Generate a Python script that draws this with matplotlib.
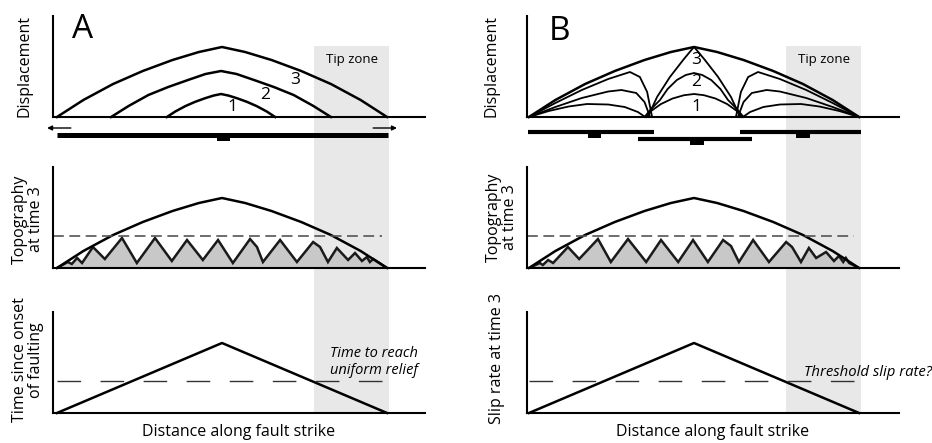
import matplotlib.pyplot as plt
import matplotlib.transforms as mtransforms
from matplotlib.patches import Rectangle

plt.rcParams['font.family'] = ['Open Sans', 'DejaVu Sans']

# distance along strike: 0 = left tip, 100 = right tip; heights in arbitrary units

# A: single fault lengthening by tip propagation (times 1-3)
a_x1 = [33.3, 35.9, 38.9, 41.8, 44.8, 47.4, 49.7, 52.0, 54.6, 57.6, 60.5, 63.5, 66.1]
a_d1 = [0, 5.6, 10.9, 15.1, 18.7, 21.4, 23, 21.4, 18.7, 15.1, 10.9, 5.6, 0]
a_x2 = [16.4, 21.7, 27.7, 33.7, 39.7, 45.0, 49.7, 54.4, 59.7, 65.7, 71.7, 77.7, 83.0]
a_d2 = [0, 11, 22, 30, 37, 43, 46, 43, 37, 30, 22, 11, 0]
a_x3 = [0, 8, 17, 26, 35, 43, 50, 57, 65, 74, 83, 92, 100]
a_d3 = [0, 17, 33, 46, 57, 65, 70, 65, 57, 46, 33, 17, 0]

# B: three segments that link up; envelope = total displacement at time 3
env_x = [0, 8, 17, 26, 35, 43, 50, 57, 65, 74, 83, 92, 100]
env_d = [0, 17, 33, 46, 57, 65, 70, 65, 57, 46, 33, 17, 0]

bl1_x = [0, 6, 12, 17.6, 24, 29, 33, 35.2]
bl1_d = [0, 6, 10.5, 13, 12.5, 10, 5, 0]
bl2_x = [0, 8, 16, 24, 28, 32.5, 35, 36.7]
bl2_d = [0, 10, 19, 25.5, 27, 24, 15, 0]
bl3_x = [0, 8, 16, 24, 30.6, 33.6, 35.8, 37.3]
bl3_d = [0, 14, 27, 38, 45, 40, 25, 0]

bm1_x = [35.5, 37, 40, 43.5, 47, 50, 53, 56.5, 60, 63, 64.5]
bm1_d = [0, 6, 13, 18.5, 21.8, 23, 21.8, 18.5, 13, 6, 0]
bm2_x = [35, 37, 39.7, 42, 44.8, 47.5, 50, 52.5, 55.2, 58, 60.3, 63, 65]
bm2_d = [0, 8, 17, 28, 37, 42, 44, 42, 37, 28, 17, 8, 0]
bm3_x = [36, 38.8, 42.7, 46.7, 48.7, 50, 51.3, 53.3, 57.3, 61.2, 64]
bm3_d = [0, 20, 40, 57, 65, 70, 65, 57, 40, 20, 0]

br1_x = [100, 94, 88, 82.4, 76, 71, 67, 64.8]
br1_d = [0, 6, 10.5, 13, 12.5, 10, 5, 0]
br2_x = [100, 92, 84, 76, 72, 67.5, 65, 63.3]
br2_d = [0, 10, 19, 25.5, 27, 24, 15, 0]
br3_x = [100, 92, 84, 76, 69.4, 66.4, 64.2, 62.7]
br3_d = [0, 14, 27, 38, 45, 40, 25, 0]

# fault traces in map view (start, end, centre)
a_fault_start = [0]
a_fault_end = [100.3]
a_fault_mid = [50.5]
b_fault_start = [-0.3, 33, 63.9]
b_fault_end = [37.9, 67.6, 100.6]
b_fault_mid = [19.8, 50.9, 83]

# topography at time 3 (ridge/valley zigzag)
a_topo_x = [0, 3.3, 4.5, 6.1, 7.6, 10.9, 14.5, 19.7, 24.2, 29.7, 34.8, 39.4, 44.2, 48.8,
            53.3, 58.5, 60.6, 62.4, 67.6, 72.7, 77.6, 79.7, 82.1, 84.8, 88.2, 90.3, 92.4,
            93.9, 94.8, 95.8, 100]
a_topo_y = [0, 6, 4, 10, 5, 21, 9, 30, 5, 30, 7, 28, 8, 28,
            5, 29, 21, 6, 28, 6, 26, 21, 6, 20, 8, 15, 7,
            11, 6, 9, 0]
b_topo_x = [0, 3.3, 4.2, 5.8, 7.3, 11.8, 15.2, 20.9, 24.8, 30, 35.5, 40, 45.2, 49.7,
            54.2, 58.8, 61.2, 63.6, 67.9, 72.7, 77.9, 79.7, 82.4, 84.8, 87, 90, 92.4,
            93.9, 95.2, 96, 97, 100]
b_topo_y = [0, 5, 3, 8, 5, 21, 9, 29, 6, 29, 6, 28, 6, 28,
            6, 28, 22, 6, 28, 6, 26, 21, 6, 20, 10, 16, 7,
            12, 6, 10, 5, 0]
uniform_relief = 32

# time since onset (A) / slip rate (B) at time 3
tri_x = [0, 50, 100]
tri_y = [0, 70, 0]
threshold = 32

tip_zone = (78, 100.5)

W, H = 932, 443
fig = plt.figure(figsize=(W / 100, H / 100), dpi=100)


def box(left, top, right, bottom):
    return [left / W, 1 - bottom / H, (right - left) / W, (bottom - top) / H]


cols = {'A': ((53, 425), (-1.2, 111.5)), 'B': ((527, 899), (-0.6, 112.1))}
rows = [(16, 117), (167, 268), (312, 413)]
lw_ax = 1.5
lw_main = 1.8

axes = {}
for key, ((l, r), xl) in cols.items():
    axes[key] = []
    for t, b in rows:
        ax = fig.add_axes(box(l, t, r, b))
        ax.set_xlim(*xl)
        ax.set_ylim(0, 101)
        ax.set_facecolor('none')
        for s in ['top', 'right']:
            ax.spines[s].set_visible(False)
        for s in ['left', 'bottom']:
            ax.spines[s].set_linewidth(lw_ax)
        ax.set_xticks([])
        ax.set_yticks([])
        axes[key].append(ax)

# tip zone shading spanning all three rows
for key in ['A', 'B']:
    trans = mtransforms.blended_transform_factory(axes[key][0].transData, fig.transFigure)
    y0 = 1 - 413 / H
    y1 = 1 - 46 / H
    fig.add_artist(Rectangle((tip_zone[0], y0), tip_zone[1] - tip_zone[0], y1 - y0,
                             transform=trans, facecolor='#e8e8e8', edgecolor='none', zorder=-1))

# --- displacement profiles ---
ax = axes['A'][0]
for xs, ds in [(a_x1, a_d1), (a_x2, a_d2), (a_x3, a_d3)]:
    ax.plot(xs, ds, color='black', lw=lw_main, clip_on=False)
ax.text(53.3, 10, '1', fontsize=12.5, ha='center', va='center')
ax.text(63, 22, '2', fontsize=12.5, ha='center', va='center')
ax.text(72.1, 37, '3', fontsize=12.5, ha='center', va='center')
ax.annotate('', xy=(-3, -11), xytext=(4.2, -11), annotation_clip=False,
            arrowprops=dict(arrowstyle='-|>', color='black', lw=1, mutation_scale=7,
                            shrinkA=0, shrinkB=0))
ax.annotate('', xy=(103, -11), xytext=(95.8, -11), annotation_clip=False,
            arrowprops=dict(arrowstyle='-|>', color='black', lw=1, mutation_scale=7,
                            shrinkA=0, shrinkB=0))
for s, e, m in zip(a_fault_start, a_fault_end, a_fault_mid):
    ax.plot([s, e], [-18, -18], color='black', lw=3.6, solid_capstyle='butt', clip_on=False)
    ax.add_patch(Rectangle((m - 2, -24), 4, 7, facecolor='black', edgecolor='none', clip_on=False))

ax = axes['B'][0]
for xs, ds in [(bl1_x, bl1_d), (bl2_x, bl2_d), (bl3_x, bl3_d),
               (bm1_x, bm1_d), (bm2_x, bm2_d), (bm3_x, bm3_d),
               (br1_x, br1_d), (br2_x, br2_d), (br3_x, br3_d)]:
    ax.plot(xs, ds, color='black', lw=1.3, clip_on=False)
ax.plot(env_x, env_d, color='black', lw=lw_main, clip_on=False)
ax.text(50.6, 10, '1', fontsize=12.5, ha='center', va='center')
ax.text(50.6, 35, '2', fontsize=12.5, ha='center', va='center')
ax.text(50.6, 57, '3', fontsize=12.5, ha='center', va='center')
for s, e, m, lev in zip(b_fault_start, b_fault_end, b_fault_mid, [-15, -22, -15]):
    ax.plot([s, e], [lev, lev], color='black', lw=3, solid_capstyle='butt', clip_on=False)
    ax.add_patch(Rectangle((m - 2, lev - 6), 4, 6.5, facecolor='black', edgecolor='none', clip_on=False))

for key in ['A', 'B']:
    axes[key][0].text(89.5, 58, 'Tip zone', fontsize=9.5, ha='center', va='center')

# --- topography ---
for key, tx, ty in [('A', a_topo_x, a_topo_y), ('B', b_topo_x, b_topo_y)]:
    ax = axes[key][1]
    ax.fill(tx, ty, facecolor='#c8c8c8', edgecolor='none')
    ax.plot(tx, ty, color='#1a1a1a', lw=lw_main, solid_joinstyle='miter')
    ax.plot(env_x, env_d, color='black', lw=lw_main, clip_on=False)
    ax.plot([ax.get_xlim()[0], 98.6], [uniform_relief, uniform_relief], color='#555555',
            lw=1.2, dashes=(6.5, 3.3))

# --- time since onset / slip rate ---
for key in ['A', 'B']:
    ax = axes[key][2]
    ax.plot(tri_x, tri_y, color='black', lw=lw_main, clip_on=False)
    ax.plot([0, 100], [threshold, threshold], color='#333333', lw=1, dashes=(17, 14))

axes['A'][2].text(96, 51, 'Time to reach\nuniform relief', fontsize=10.5, style='italic',
                  ha='center', va='center', linespacing=1.1)
axes['B'][2].text(83.3, 40, 'Threshold slip rate?', fontsize=10.7, style='italic',
                  ha='left', va='center', clip_on=False)

# panel letters and axis labels
def ftext(x, y, s, **kw):
    fig.text(x / W, 1 - y / H, s, ha='center', va='center', **kw)


ftext(83, 30, 'A', fontsize=24)
ftext(560, 31, 'B', fontsize=24)
lab = dict(fontsize=11.5, rotation=90, linespacing=1.0)
ftext(25, 66, 'Displacement', **lab)
ftext(28, 219, 'Topography\nat time 3', **lab)
ftext(28, 360, 'Time since onset\nof faulting', **lab)
ftext(491, 66, 'Displacement', **lab)
ftext(502, 217, 'Topography\nat time 3', **lab)
ftext(497, 359, 'Slip rate at time 3', **lab)
ftext(239, 432, 'Distance along fault strike', fontsize=11.5)
ftext(713, 432, 'Distance along fault strike', fontsize=11.5)

fig.savefig('out.png', dpi=100)
